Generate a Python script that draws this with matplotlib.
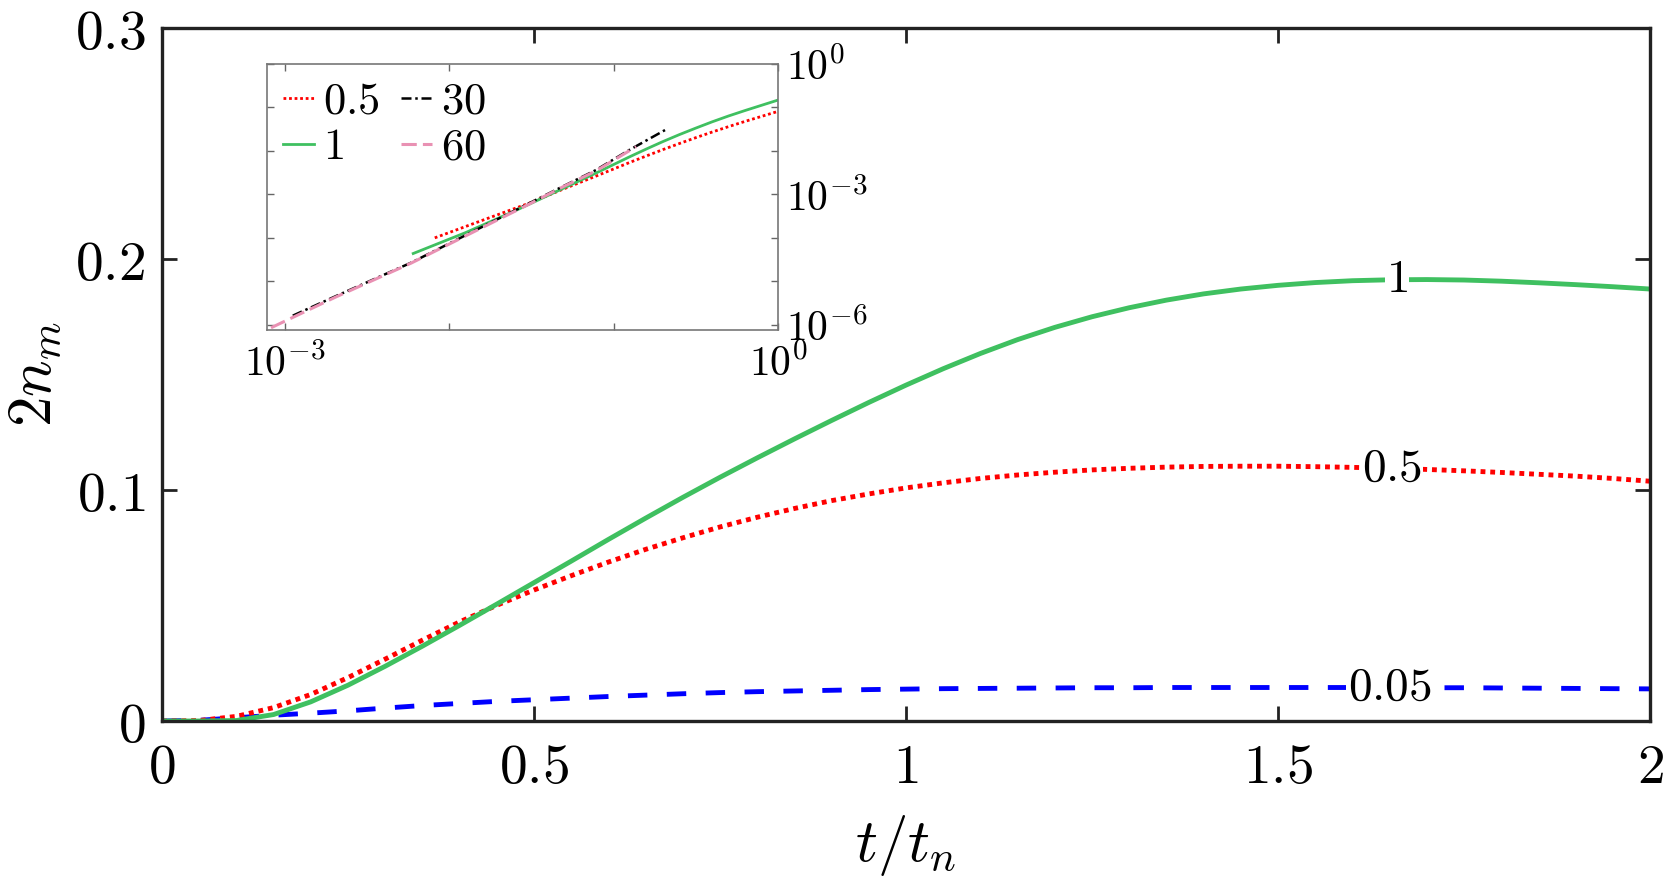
import numpy as np
import matplotlib
matplotlib.use("Agg")
import matplotlib.pyplot as plt

plt.rcParams['mathtext.fontset'] = 'cm'
plt.rcParams['font.family'] = 'serif'

# main panel: 2n_m against t/t_n for three values of the parameter
t = [0, 0.05, 0.1, 0.15, 0.2, 0.25, 0.3, 0.35, 0.4, 0.45, 0.5, 0.55, 0.6,
     0.65, 0.7, 0.75, 0.8, 0.85, 0.9, 0.95, 1.0, 1.05, 1.1, 1.15, 1.2, 1.25,
     1.3, 1.35, 1.4, 1.45, 1.5, 1.55, 1.6, 1.65, 1.7, 1.75, 1.8, 1.85, 1.9,
     1.95, 2.0]
n_1 = [0, 0, 0.0002, 0.0028, 0.0083, 0.0155, 0.0237, 0.0324, 0.0414, 0.0506,
       0.0599, 0.0692, 0.0786, 0.0878, 0.0968, 0.1055, 0.1139, 0.1221, 0.1301,
       0.1379, 0.1454, 0.1525, 0.1591, 0.1651, 0.1704, 0.1750, 0.1789, 0.1822,
       0.1849, 0.1870, 0.1886, 0.1898, 0.1906, 0.1910, 0.1911, 0.1909, 0.1904,
       0.1897, 0.1889, 0.1880, 0.1870]
n_05 = [0, 0.0002, 0.0020, 0.0058, 0.0115, 0.0188, 0.0268, 0.0350, 0.0429,
        0.0501, 0.0567, 0.0629, 0.0688, 0.0743, 0.0793, 0.0840, 0.0882, 0.0920,
        0.0954, 0.0983, 0.1009, 0.1031, 0.1050, 0.1065, 0.1077, 0.1087, 0.1094,
        0.1099, 0.1102, 0.1103, 0.1103, 0.1101, 0.1098, 0.1094, 0.1089, 0.1083,
        0.1076, 0.1068, 0.1060, 0.1050, 0.1038]
n_005 = [0, 0.0003, 0.0014, 0.0025, 0.0034, 0.0044, 0.0056, 0.0067, 0.0076,
         0.0085, 0.0092, 0.0099, 0.0106, 0.0112, 0.0118, 0.0123, 0.0127, 0.0130,
         0.0133, 0.0136, 0.0138, 0.0140, 0.0141, 0.0142, 0.0143, 0.0144, 0.0144,
         0.0145, 0.0145, 0.0145, 0.0145, 0.0145, 0.0145, 0.0145, 0.0144, 0.0144,
         0.0143, 0.0142, 0.0141, 0.0140, 0.0139]

# inset (log-log), decade exponents
in60_lx = [-3.2, -2.95, -2.694, -2.23, -1.511, -1.31, -1.107, -0.862]
in60_ly = [-6.28, -5.83, -5.37, -4.58, -3.22, -2.83, -2.46, -1.90]
in30_lx = [-2.95, -2.694, -2.23, -1.511, -1.31, -1.107, -0.905, -0.687]
in30_ly = [-5.79, -5.35, -4.57, -3.20, -2.82, -2.44, -1.98, -1.52]
in1_lx = [-2.218, -1.9, -1.6, -1.3, -1.107, -0.905, -0.8, -0.703, -0.6, -0.5,
          -0.4, -0.3, -0.2, -0.1, 0]
in1_ly = [-4.36, -3.88, -3.38, -2.85, -2.51, -2.14, -1.955, -1.79, -1.625,
          -1.475, -1.33, -1.195, -1.07, -0.95, -0.83]
in05_lx = [-2.087, -1.8, -1.511, -1.307, -1.107, -0.905, -0.8, -0.7, -0.6,
           -0.5, -0.4, -0.3, -0.2, -0.1, 0]
in05_ly = [-4.0, -3.6, -3.2, -2.88, -2.58, -2.27, -2.115, -1.97, -1.83,
           -1.695, -1.565, -1.44, -1.32, -1.205, -1.09]

green = '#3fc060'
red = '#ff0000'
blue = '#0000ff'
pink = '#e991b3'

fig = plt.figure(figsize=(16.64, 8.8), dpi=100)
ax = fig.add_axes([162/1664, 159/880, 1488/1664, 693/880])

ax.plot(t, n_005, color=blue, lw=3.5, dashes=(4, 4), dash_capstyle='butt')
ax.plot(t, n_05, color=red, lw=3.5, dashes=(1, 1), dash_capstyle='butt')
ax.plot(t, n_1, color=green, lw=3.5, solid_capstyle='butt')

lab_kw = dict(fontsize=34, ha='center', va='center',
              bbox=dict(facecolor='white', edgecolor='none', pad=1))
ax.text(1.66, 0.1912, '$1$', **lab_kw)
ax.text(1.653, 0.1094, '$0.5$', **lab_kw)
ax.text(1.65, 0.0146, '$0.05$', **lab_kw)

ax.set_xlim(0, 2)
ax.set_ylim(0, 0.3)
ax.set_xticks([0, 0.5, 1, 1.5, 2])
ax.set_xticklabels(['$0$', '$0.5$', '$1$', '$1.5$', '$2$'])
ax.set_yticks([0, 0.1, 0.2, 0.3])
ax.set_yticklabels(['$0$', '$0.1$', '$0.2$', '$0.3$'])
ax.tick_params(direction='in', length=11, width=2, top=True, right=True,
               labelsize=40, color='#222222')
ax.tick_params(axis='x', pad=14)
ax.tick_params(axis='y', pad=12)
for s in ax.spines.values():
    s.set_linewidth(2.4)
    s.set_color('#222222')
ax.set_xlabel('$t/t_n$', fontsize=44, labelpad=13)
ax.set_ylabel('$2n_m$', fontsize=44, labelpad=8)

# inset
axin = fig.add_axes([267/1664, 550/880, 511/1664, 266/880])
axin.plot(10**np.array(in05_lx), 10**np.array(in05_ly), color=red, lw=2,
          dashes=(1, 1), dash_capstyle='butt', label='$0.5$')
axin.plot(10**np.array(in1_lx), 10**np.array(in1_ly), color=green, lw=2,
          label='$1$')
axin.plot(10**np.array(in30_lx), 10**np.array(in30_ly), color='black', lw=1.8,
          dashes=(4, 1.5, 1, 1.5), label='$30$')
axin.plot(10**np.array(in60_lx), 10**np.array(in60_ly), color=pink, lw=2.2,
          dashes=(5, 2), label='$60$')
axin.set_xscale('log')
axin.set_yscale('log')
axin.set_xlim(10**-3.107, 1)
axin.set_ylim(10**-6.12, 1)
axin.set_xticks([1e-3, 1e-2, 1e-1, 1])
axin.set_xticklabels(['$10^{-3}$', '', '', '$10^{0}$'])
axin.set_yticks([1e-6, 1e-5, 1e-4, 1e-3, 1e-2, 1e-1, 1])
axin.set_yticklabels(['$10^{-6}$', '', '', '$10^{-3}$', '', '', '$10^{0}$'])
axin.minorticks_off()
axin.yaxis.tick_right()
axin.tick_params(direction='in', length=5, width=1, top=True, left=True,
                 right=True, labelsize=30, color='#666666')
axin.tick_params(axis='x', pad=9)
axin.tick_params(axis='y', pad=6)
for s in axin.spines.values():
    s.set_linewidth(1.2)
    s.set_color('#777777')
axin.legend(ncol=2, loc='upper left', frameon=False, fontsize=32,
            handlelength=0.7, handletextpad=0.2, columnspacing=0.5,
            labelspacing=0.05, borderaxespad=0.15, borderpad=0.2)

fig.savefig('out.png', dpi=100)
